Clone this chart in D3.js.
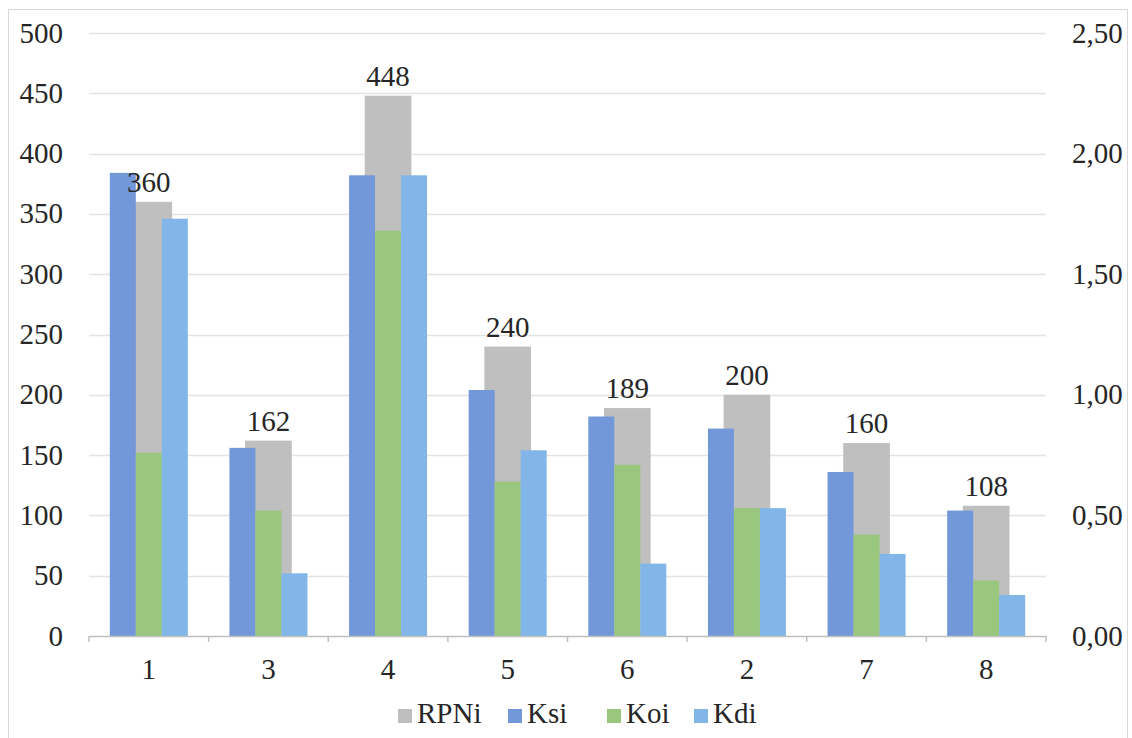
<!DOCTYPE html>
<html>
<head>
<meta charset="utf-8">
<script src="https://cdn.jsdelivr.net/npm/d3@7"></script>
</head>
<body style="margin:0">
<script>
// Category order as shown on the x axis
const categories = ["1", "3", "4", "5", "6", "2", "7", "8"];
// RPNi on the left axis
const rpni = [360, 162, 448, 240, 189, 200, 160, 108];
// Coefficients on the right axis
const ksi = [1.92, 0.78, 1.91, 1.02, 0.91, 0.86, 0.68, 0.52];
const koi = [0.76, 0.52, 1.68, 0.64, 0.71, 0.53, 0.42, 0.23];
const kdi = [1.73, 0.26, 1.91, 0.77, 0.30, 0.53, 0.34, 0.17];
const leftTicks = [0, 50, 100, 150, 200, 250, 300, 350, 400, 450, 500];
const rightTicks = [0, 0.5, 1.0, 1.5, 2.0, 2.5];
const seriesNames = ["RPNi", "Ksi", "Koi", "Kdi"];

const W = 1132, H = 738;
const plot = { left: 89, right: 1046, top: 33, bottom: 636 };
const fontSize = 29;
const serif = "'Liberation Serif'";
const textColor = "#262626";

const colors = {
  RPNi: "#bfbfbf",
  Ksi: "#7398da",
  Koi: "#98c77d",
  Kdi: "#82b6e8"
};

const svg = d3.select("body").append("svg")
  .attr("width", W).attr("height", H)
  .style("display", "block");

// outer chart frame
svg.append("rect")
  .attr("x", 8.5).attr("y", 9.5)
  .attr("width", 1119).attr("height", 740)
  .attr("fill", "#fff").attr("stroke", "#d9d9d9");

const x = d3.scaleBand().domain(categories).range([plot.left, plot.right]).padding(0);
const yL = d3.scaleLinear().domain([0, 500]).range([plot.bottom, plot.top]);
const yR = d3.scaleLinear().domain([0, 2.5]).range([plot.bottom, plot.top]);

const coefSeries = [
  { name: "Ksi", values: ksi },
  { name: "Koi", values: koi },
  { name: "Kdi", values: kdi }
];
const inner = d3.scaleBand().domain(coefSeries.map(s => s.name))
  .range([0, x.bandwidth()]).paddingInner(0).paddingOuter(0.8);

// gridlines
svg.append("g").selectAll("line").data(leftTicks.filter(d => d > 0)).join("line")
  .attr("x1", plot.left).attr("x2", plot.right)
  .attr("y1", d => Math.round(yL(d)) + 0.5).attr("y2", d => Math.round(yL(d)) + 0.5)
  .attr("stroke", "#e3e3e3").attr("stroke-width", 1.5);

// every label is drawn as a plain text node straight on the svg
function label(px, py, str, anchor) {
  return svg.append("text")
    .style("font-family", serif)
    .attr("font-size", fontSize)
    .attr("fill", textColor)
    .attr("x", px).attr("y", py)
    .attr("text-anchor", anchor)
    .text(str);
}

// left axis labels (positions from the left scale)
leftTicks.forEach(v => label(plot.left - 26, yL(v) + fontSize * 0.33, v, "end"));

// right axis labels (positions from the right scale)
const fmtComma = d => d3.format(".2f")(d).replace(".", ",");
rightTicks.forEach(v => label(plot.right + 26, yR(v) + fontSize * 0.33, fmtComma(v), "start"));

// RPNi bars behind
const grayW = x.bandwidth() * 0.39;
svg.append("g").selectAll("rect").data(categories).join("rect")
  .attr("x", (c) => x(c) + (x.bandwidth() - grayW) / 2)
  .attr("y", (c, i) => yL(rpni[i]))
  .attr("width", grayW)
  .attr("height", (c, i) => yL(0) - yL(rpni[i]))
  .attr("fill", colors.RPNi);

// coefficient bars
const gBars = svg.append("g");
coefSeries.forEach(s => {
  gBars.append("g").selectAll("rect").data(categories).join("rect")
    .attr("x", c => x(c) + inner(s.name))
    .attr("y", (c, i) => yR(s.values[i]))
    .attr("width", inner.bandwidth())
    .attr("height", (c, i) => yR(0) - yR(s.values[i]))
    .attr("fill", colors[s.name]);
});

// RPNi value labels
categories.forEach((c, i) => label(x(c) + x.bandwidth() / 2, yL(rpni[i]) - 10, rpni[i], "middle"));

// bottom axis line and boundary ticks
const xAxis = d3.axisBottom(x).tickSize(0).tickFormat("");
const gX = svg.append("g").attr("transform", `translate(0,${plot.bottom})`).call(xAxis);
gX.select(".domain").attr("stroke", "#bfbfbf").attr("stroke-width", 1.5);
gX.selectAll(".tick text").remove();
const bounds = categories.map(c => x(c)).concat([plot.right]);
gX.append("g").selectAll("line").data(bounds).join("line")
  .attr("x1", d => d).attr("x2", d => d)
  .attr("y1", 0).attr("y2", 6)
  .attr("stroke", "#bfbfbf").attr("stroke-width", 1.5);
categories.forEach(c => label(x(c) + x.bandwidth() / 2, plot.bottom + 43, c, "middle"));

// legend
const legendX = [398, 508, 607, 694];
seriesNames.forEach((name, i) => {
  svg.append("rect").attr("x", legendX[i]).attr("y", 709).attr("width", 14).attr("height", 14)
    .attr("fill", colors[name]);
  label(legendX[i] + 19, 723, name, "start");
});
</script>
</body>
</html>
